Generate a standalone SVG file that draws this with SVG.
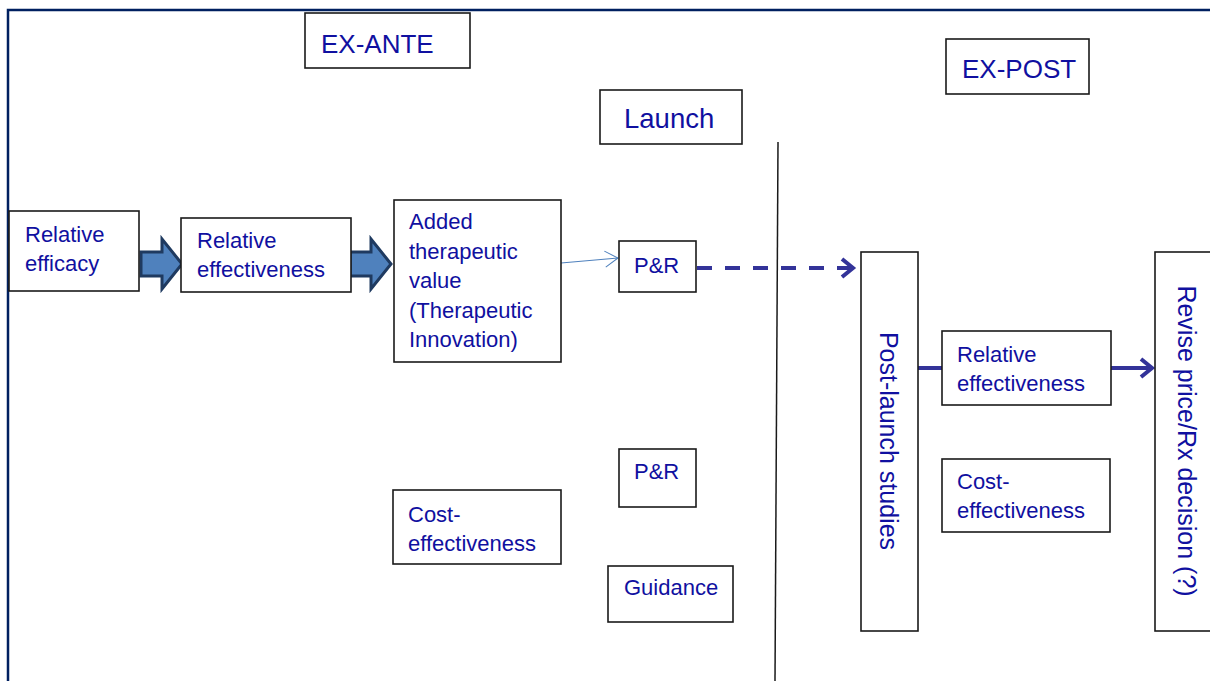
<svg xmlns="http://www.w3.org/2000/svg" width="1210" height="681" viewBox="0 0 1210 681">
<style>
.box{fill:#fff;stroke:#1a1a1a;stroke-width:1.6}
.t{font-family:"Liberation Sans",Arial,sans-serif;font-size:22px;fill:#1010a0}
.big{font-family:"Liberation Sans",Arial,sans-serif;font-size:26px;fill:#1010a0}
.fat{fill:#4f81bd;stroke:#1f3a60;stroke-width:3;stroke-linejoin:miter}
.conn{stroke:#333399;stroke-width:4;fill:none}
</style>
<defs>
<marker id="open" markerWidth="16" markerHeight="18" refX="14" refY="9" orient="auto" markerUnits="userSpaceOnUse">
<path d="M1,1 L14,9 L1,17" fill="none" stroke="#4f81bd" stroke-width="1"/>
</marker>
</defs>
<rect x="0" y="0" width="1210" height="681" fill="#fff"/>
<rect id="frame" x="8" y="10" width="1220" height="700" fill="none" stroke="#002060" stroke-width="2.5"/>

<g id="connectors">
<path class="fat" d="M141,252 L162,252 L162,239 L182,264 L162,289 L162,276 L141,276 Z"/>
<path class="fat" d="M350,252 L371,252 L371,239 L391,264 L371,289 L371,276 L350,276 Z"/>
<line x1="561" y1="263" x2="618" y2="258" stroke="#4f81bd" stroke-width="1.2" marker-end="url(#open)"/>
<line class="conn" x1="697" y1="268" x2="829" y2="268" stroke-dasharray="15,13"/>
<line class="conn" x1="837" y1="268" x2="850" y2="268"/>
<path class="conn" d="M842,259 L853,268 L842,277" stroke-width="4.5"/>
<line x1="778" y1="142" x2="775" y2="681" stroke="#1a1a1a" stroke-width="1.5"/>
<line class="conn" x1="918" y1="368" x2="942" y2="368"/>
<line class="conn" x1="1111" y1="368" x2="1151" y2="368"/>
<path class="conn" d="M1141,359 L1152,368 L1141,377" stroke-width="4.5"/>
</g>

<g id="ex-ante"><rect class="box" x="305" y="13" width="165" height="55"/><text class="big" x="321" y="53">EX-ANTE</text></g>
<g id="launch"><rect class="box" x="600" y="90" width="142" height="54"/><text class="big" x="624" y="128" style="font-size:27.5px">Launch</text></g>
<g id="ex-post"><rect class="box" x="946" y="39" width="143" height="55"/><text class="big" x="962" y="78">EX-POST</text></g>

<g id="relative-efficacy"><rect class="box" x="9" y="211" width="130" height="80"/><text class="t" x="25" y="242">Relative</text><text class="t" x="25" y="271">efficacy</text></g>
<g id="relative-effectiveness"><rect class="box" x="181" y="218" width="170" height="74"/><text class="t" x="197" y="248">Relative</text><text class="t" x="197" y="277">effectiveness</text></g>
<g id="added-value"><rect class="box" x="394" y="200" width="167" height="162"/>
<text class="t" x="409" y="229">Added</text><text class="t" x="409" y="259">therapeutic</text><text class="t" x="409" y="288">value</text><text class="t" x="409" y="318">(Therapeutic</text><text class="t" x="409" y="347">Innovation)</text></g>
<g id="pr-top"><rect class="box" x="619" y="241" width="77" height="51"/><text class="t" x="634" y="273">P&amp;R</text></g>
<g id="pr-bottom"><rect class="box" x="619" y="449" width="77" height="58"/><text class="t" x="634" y="479">P&amp;R</text></g>
<g id="cost-left"><rect class="box" x="393" y="490" width="168" height="74"/><text class="t" x="408" y="522">Cost-</text><text class="t" x="408" y="551">effectiveness</text></g>
<g id="guidance"><rect class="box" x="608" y="566" width="125" height="56"/><text class="t" x="624" y="595">Guidance</text></g>

<g id="post-launch"><rect class="box" x="861" y="252" width="57" height="379"/><text class="big" style="font-size:25px" text-anchor="middle" transform="translate(880,441) rotate(90)">Post-launch studies</text></g>
<g id="relative-effectiveness-post"><rect class="box" x="942" y="331" width="169" height="74"/><text class="t" x="957" y="362">Relative</text><text class="t" x="957" y="391">effectiveness</text></g>
<g id="cost-right"><rect class="box" x="942" y="459" width="168" height="73"/><text class="t" x="957" y="489">Cost-</text><text class="t" x="957" y="518">effectiveness</text></g>
<g id="revise"><rect class="box" x="1155" y="252" width="70" height="379"/><text class="big" style="font-size:25px" text-anchor="middle" transform="translate(1178,441) rotate(90)">Revise price/Rx decision (?)</text></g>
</svg>
